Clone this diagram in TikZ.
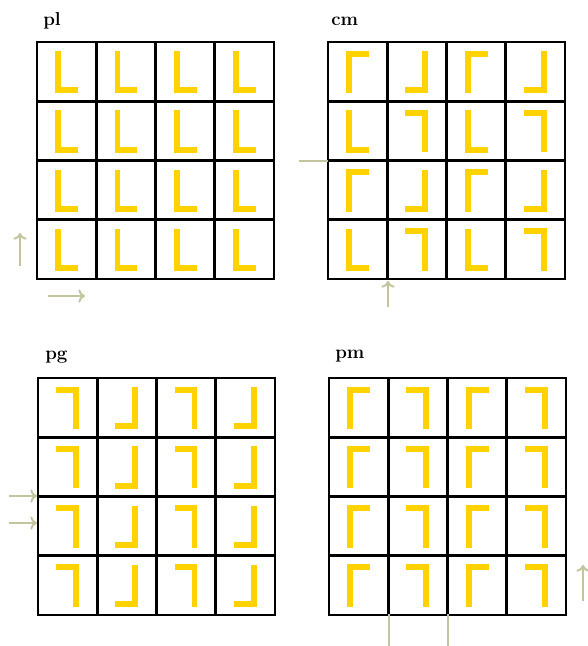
\documentclass[tikz,border=0pt]{standalone}
\usepackage{tikz}
\usetikzlibrary{arrows.meta}

\definecolor{amarelo}{RGB}{255,210,0}
\definecolor{oliva}{RGB}{196,196,160}

% grade 4x4 com uma letra L em cada casa
% #1 = canto superior esquerdo, #2 e #3 = espelhamentos (em \col e \lin)
\newcommand{\grade}[3]{%
  \begin{scope}[shift={(#1)}]
    \foreach \col in {0,...,3}
    {
      \foreach \lin in {0,...,3}
      {
        \pgfmathsetmacro{\sx}{#2}
        \pgfmathsetmacro{\sy}{#3}
        \begin{scope}[shift={(\col*59.25+29.6,\lin*59.25+30)},xscale=\sx,yscale=\sy]
          \draw[letra] (-8.4,-21) -- (-8.4,18.4) -- (11.4,18.4);
        \end{scope}
      }
    }
    \foreach \i in {0,...,4}
    {
      \draw[linha] (\i*59.25,0) -- (\i*59.25,237);
      \draw[linha] (0,\i*59.25) -- (237,\i*59.25);
    }
  \end{scope}
}

\begin{document}
\begin{tikzpicture}[x=0.75pt,y=-0.75pt,
  letra/.style={amarelo,line width=4.4pt},
  linha/.style={black,line width=2pt,line cap=rect},
  titulo/.style={anchor=base west,inner sep=0pt,font=\fontsize{14}{16}\selectfont\bfseries},
  seta/.style={oliva,line width=1.5pt,-{To[length=5pt,width=10pt]}},
  espelho/.style={oliva,line width=1.5pt}]

\useasboundingbox (0,0) rectangle (587,646);

% pl
\node[titulo] (tpl) at (43,25) {pl};
\grade{37,42}{1}{1}
\draw[seta] (20,266) -- (20,233);
\draw[seta] (48,296) -- (85,296);

% cm
\node[titulo] (tcm) at (331,25) {cm};
\grade{328,42}{1-2*mod(\col,2)}{2*mod(\col+\lin,2)-1}
\draw[espelho] (299,161) -- (328,161);
\draw[seta] (388,307) -- (388,281);

% pg
\node[titulo] (tpg) at (45,359) {pg};
\grade{38,378}{-1}{2*mod(\col,2)-1}
\draw[seta] (9,496) -- (37,496);
\draw[seta] (9,523) -- (37,523);

% pm
\node[titulo] (tpm) at (335,358) {pm};
\grade{329,378}{1-2*mod(\col,2)}{-1}
\draw[espelho] (389,614) -- (389,646);
\draw[espelho] (448,614) -- (448,646);
\draw[seta] (583,601) -- (583,565);

\end{tikzpicture}
\end{document}
